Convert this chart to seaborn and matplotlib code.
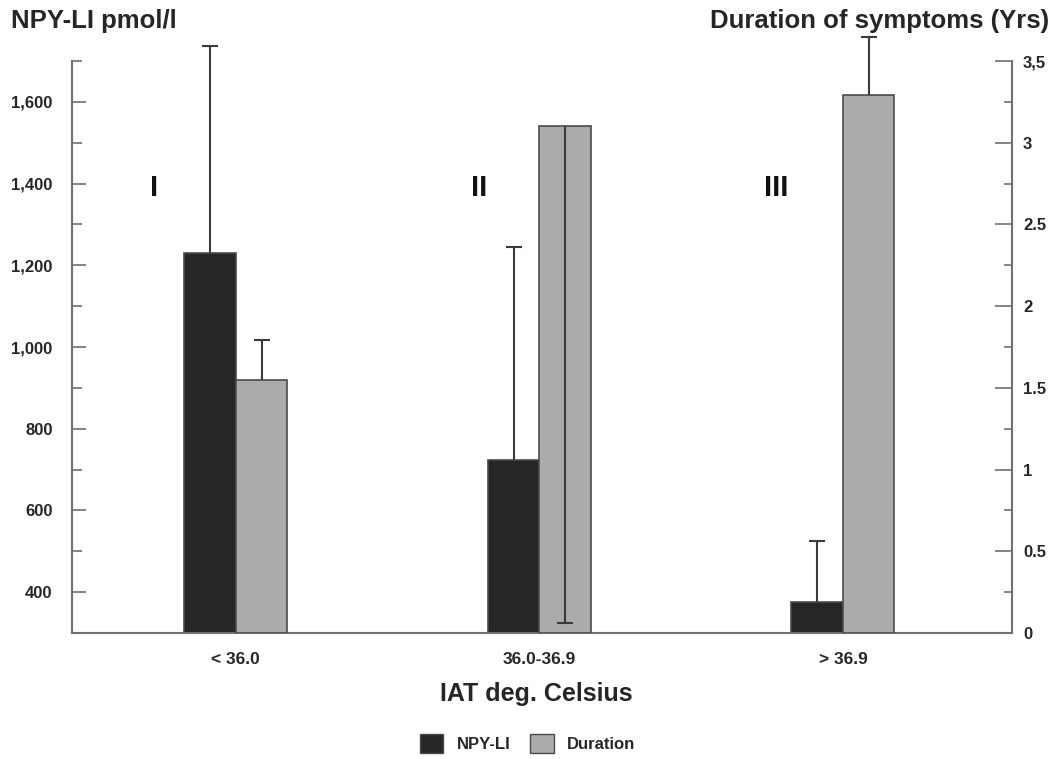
import numpy as np
import pandas as pd
import matplotlib.pyplot as plt
import seaborn as sns

# values
groups = ["< 36.0", "36.0-36.9", "> 36.9"]
numerals = ["I", "II", "III"]
series = ["NPY-LI", "Duration"]

npy_mean = [1230, 723, 375]
npy_err_up = [507, 522, 150]
npy_err_down = [0, 0, 0]

dur_mean = [1.55, 3.10, 3.29]
dur_err_up = [0.24, 0.0, 0.36]
dur_err_down = [0.0, 3.04, 0.0]

left_ticks = [400, 600, 800, 1000, 1200, 1400, 1600]
left_labels = ["400", "600", "800", "1,000", "1,200", "1,400", "1,600"]
right_ticks = [0, 0.5, 1, 1.5, 2, 2.5, 3, 3.5]
right_labels = ["0", "0.5", "1", "1.5", "2", "2.5", "3", "3,5"]

sns.set_style("white")
plt.rcParams['font.family'] = ['Liberation Sans', 'DejaVu Sans']
plt.rcParams['font.weight'] = 'bold'

dark = '#262626'
light = '#ababab'
spine_col = '#707070'
err_col = '#3a3a3a'
pal = dict(zip(series, [dark, light]))

bar_w = 0.17
idx = np.arange(len(groups))
npy_df = pd.DataFrame({'pos': idx - bar_w / 2, 'value': npy_mean})
dur_df = pd.DataFrame({'pos': idx + bar_w / 2, 'value': dur_mean})

fig = plt.figure(figsize=(10.55, 7.59), dpi=100)
ax = fig.add_axes([0.0682, 0.166, 0.891, 0.7536])
ax2 = ax.twinx()

sns.barplot(data=npy_df, x='pos', y='value', native_scale=True, width=bar_w,
            color=pal['NPY-LI'], saturation=1, errorbar=None,
            edgecolor='#4a4a4a', linewidth=1.2, ax=ax)
sns.barplot(data=dur_df, x='pos', y='value', native_scale=True, width=bar_w,
            color=pal['Duration'], saturation=1, errorbar=None,
            edgecolor='#4a4a4a', linewidth=1.2, ax=ax2)


def draw_err(axis, x, y, down, up):
    eb = axis.errorbar([x], [y], yerr=[[down], [up]], fmt='none', ecolor=err_col,
                       elinewidth=1.5, capsize=6, capthick=1.5, zorder=5)
    low_cap, high_cap = eb.lines[1]
    low_cap.set_visible(down > 0)
    high_cap.set_visible(up > 0)
    for art in list(eb.lines[1]) + list(eb.lines[2]):
        art.set_clip_on(False)


npy_x = [p.get_x() + p.get_width() / 2 for p in ax.patches]
dur_x = [p.get_x() + p.get_width() / 2 for p in ax2.patches]
for i in range(len(groups)):
    draw_err(ax, npy_x[i], npy_mean[i], npy_err_down[i], npy_err_up[i])
    draw_err(ax2, dur_x[i], dur_mean[i], dur_err_down[i], dur_err_up[i])

ax.set_xlim(-0.54, 2.557)
ax.set_ylim(300, 1700)
ax2.set_ylim(0, 3.5)

# group numerals
numeral_offset = [-0.27, -0.2, -0.22]
for i, num in enumerate(numerals):
    ax.text(i + numeral_offset[i], 1388, num, fontsize=21, fontweight='bold',
            ha='center', va='center', color='#111')

ax.set_yticks(left_ticks)
ax.set_yticklabels(left_labels, fontsize=12)
ax.set_yticks(np.arange(500, 1701, 200), minor=True)
ax.tick_params(axis='y', which='major', direction='in', length=10, width=1.2,
               color=spine_col, left=True, pad=14)
ax.tick_params(axis='y', which='minor', direction='in', length=7, width=1.2,
               color=spine_col, left=True)

ax2.set_yticks(right_ticks)
ax2.set_yticklabels(right_labels, fontsize=12)
ax2.set_yticks(np.arange(0.25, 3.5, 0.5), minor=True)
ax2.tick_params(axis='y', which='major', direction='in', length=12, width=1.2,
                color=spine_col, right=True, pad=8)
ax2.tick_params(axis='y', which='minor', direction='in', length=6, width=1.2,
                color=spine_col, right=True)

ax.set_xticks(idx)
ax.set_xticklabels(groups, fontsize=12.5)
ax.tick_params(axis='x', length=0, pad=14)

ax.set_xlabel("IAT deg. Celsius", fontsize=18, fontweight='bold', labelpad=12)
ax.xaxis.set_label_coords(0.494, -0.085)
ax.set_ylabel("")
ax2.set_ylabel("")

for a in (ax, ax2):
    a.spines['top'].set_visible(False)
    for s in a.spines.values():
        s.set_color(spine_col)
        s.set_linewidth(1.5)
ax2.spines['left'].set_visible(False)
ax2.spines['bottom'].set_visible(False)
ax.spines['right'].set_visible(False)

fig.text(0.01, 0.972, "NPY-LI pmol/l", fontsize=18.5, ha='left', va='center')
fig.text(0.994, 0.972, "Duration of symptoms (Yrs)", fontsize=18.5, ha='right', va='center')

handles = [plt.Rectangle((0, 0), 1, 1, facecolor=pal[s], edgecolor='#4a4a4a') for s in series]
fig.legend(handles, series, loc='center', bbox_to_anchor=(0.5, 0.02), ncol=2,
           frameon=False, fontsize=12, handlelength=1.4, handleheight=1.4,
           columnspacing=1.2, handletextpad=0.8)

fig.savefig("out.png", dpi=100)
